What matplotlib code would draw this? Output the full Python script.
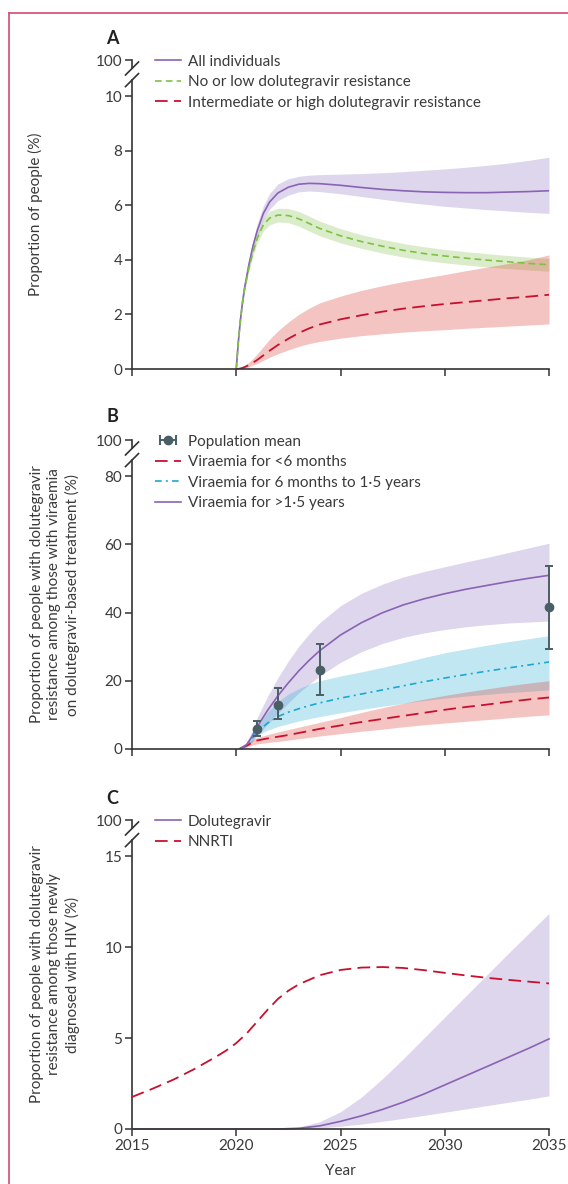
import numpy as np
import matplotlib.pyplot as plt
from matplotlib.lines import Line2D
from matplotlib.legend_handler import HandlerLine2D

plt.rcParams['font.family'] = ['Lato', 'DejaVu Sans']
TXT = '#3a3a3a'

# ---------------- panel A: proportion of people ----------------
years_a = [2020, 2020.1, 2020.2, 2020.3, 2020.4, 2020.6, 2020.8, 2021, 2021.3, 2021.6,
           2022, 2022.5, 2023, 2023.5, 2024, 2025, 2026, 2027, 2028, 2029,
           2030, 2031, 2032, 2033, 2034, 2035]
all_mean = [0, 1.0, 1.8, 2.45, 2.98, 3.8, 4.5, 5.05, 5.7, 6.12,
            6.45, 6.66, 6.77, 6.8, 6.79, 6.73, 6.65, 6.58, 6.53, 6.49,
            6.47, 6.46, 6.46, 6.48, 6.5, 6.53]
all_hi = [0, 1.05, 1.9, 2.55, 3.1, 3.95, 4.7, 5.3, 5.98, 6.43,
          6.78, 6.97, 7.06, 7.1, 7.12, 7.14, 7.16, 7.19, 7.23, 7.28,
          7.33, 7.39, 7.46, 7.54, 7.64, 7.76]
all_lo = [0, 0.95, 1.7, 2.35, 2.86, 3.65, 4.3, 4.82, 5.45, 5.85,
          6.17, 6.37, 6.49, 6.52, 6.5, 6.42, 6.32, 6.22, 6.12, 6.04,
          5.96, 5.9, 5.84, 5.79, 5.74, 5.7]
low_mean = [0, 1.0, 1.8, 2.42, 2.93, 3.68, 4.28, 4.78, 5.28, 5.53,
            5.64, 5.62, 5.5, 5.33, 5.15, 4.88, 4.67, 4.5, 4.35, 4.23,
            4.14, 4.06, 3.99, 3.93, 3.87, 3.82]
low_hi = [0, 1.03, 1.85, 2.49, 3.02, 3.8, 4.44, 4.97, 5.5, 5.78,
          5.89, 5.88, 5.77, 5.6, 5.42, 5.14, 4.92, 4.75, 4.6, 4.48,
          4.38, 4.3, 4.23, 4.16, 4.1, 4.05]
low_lo = [0, 0.97, 1.75, 2.35, 2.84, 3.57, 4.13, 4.6, 5.06, 5.28,
          5.39, 5.36, 5.23, 5.05, 4.88, 4.62, 4.42, 4.25, 4.1, 3.98,
          3.89, 3.81, 3.74, 3.68, 3.63, 3.58]
high_mean = [0, 0.0, 0.02, 0.04, 0.07, 0.14, 0.23, 0.33, 0.5, 0.67,
             0.88, 1.11, 1.32, 1.49, 1.63, 1.82, 1.97, 2.1, 2.21, 2.3,
             2.38, 2.45, 2.52, 2.59, 2.65, 2.72]
high_hi = [0, 0.01, 0.04, 0.08, 0.13, 0.25, 0.38, 0.55, 0.82, 1.09,
           1.4, 1.72, 2.0, 2.23, 2.42, 2.67, 2.88, 3.05, 3.2, 3.33,
           3.46, 3.6, 3.73, 3.86, 4.0, 4.18]
high_lo = [0, 0, 0.01, 0.02, 0.04, 0.08, 0.14, 0.2, 0.32, 0.43,
           0.56, 0.7, 0.83, 0.93, 1.01, 1.13, 1.22, 1.29, 1.35, 1.4,
           1.44, 1.49, 1.53, 1.57, 1.61, 1.65]

# ---------------- panel B: resistance among viraemic ----------------
years_b = [2020.15, 2020.5, 2020.75, 2021, 2021.5, 2022, 2022.5, 2023, 2023.5, 2024,
           2025, 2026, 2027, 2028, 2029, 2030, 2031, 2032, 2033, 2034, 2035]
long_mean = [0, 1.3, 3.6, 6.5, 11.3, 15.6, 19.4, 22.9, 26.0, 28.8,
             33.4, 37.0, 39.9, 42.2, 44.0, 45.5, 46.8, 47.9, 49.0, 50.0, 50.9]
long_hi = [0, 2.0, 5.2, 9.2, 15.4, 20.9, 25.8, 30.1, 33.8, 37.0,
           42.0, 45.6, 48.3, 50.4, 52.0, 53.4, 54.8, 56.1, 57.5, 58.9, 60.3]
long_lo = [0, 0.6, 2.0, 4.0, 7.2, 10.4, 13.5, 16.4, 19.0, 21.4,
           25.4, 28.5, 30.9, 32.7, 34.0, 35.0, 35.8, 36.4, 36.9, 37.2, 37.5]
mid_mean = [0, 1.2, 3.0, 5.0, 7.6, 9.5, 10.8, 11.8, 12.7, 13.5,
            14.9, 16.1, 17.3, 18.5, 19.7, 20.8, 21.8, 22.8, 23.7, 24.6, 25.5]
mid_hi = [0, 1.6, 4.0, 6.8, 10.8, 13.9, 16.1, 17.7, 19.0, 20.0,
          21.4, 22.6, 23.9, 25.3, 26.8, 28.2, 29.3, 30.4, 31.4, 32.3, 33.2]
mid_lo = [0, 0.8, 2.2, 4.0, 5.5, 6.6, 7.4, 8.2, 8.9, 9.5,
          10.6, 11.6, 12.5, 13.4, 14.2, 14.9, 15.5, 16.0, 16.5, 16.9, 17.3]
short_mean = [0, 1.0, 1.8, 2.5, 3.1, 3.6, 4.1, 4.7, 5.3, 5.9,
              6.9, 7.9, 8.8, 9.7, 10.6, 11.5, 12.3, 13.0, 13.8, 14.5, 15.1]
short_hi = [0, 1.4, 2.6, 3.4, 4.2, 5.0, 5.7, 6.4, 7.1, 7.8,
            9.2, 10.7, 12.1, 13.4, 14.6, 15.7, 16.7, 17.6, 18.5, 19.3, 20.0]
short_lo = [0, 0.6, 1.1, 1.5, 1.9, 2.2, 2.6, 3.0, 3.4, 3.8,
            4.5, 5.2, 5.8, 6.5, 7.1, 7.6, 8.1, 8.6, 9.1, 9.6, 10.0]
obs_years = [2021, 2022, 2024, 2035]
obs_mean = [5.8, 12.9, 23.1, 41.6]
obs_lo = [3.9, 8.9, 15.8, 29.3]
obs_hi = [8.3, 18.0, 30.9, 53.7]

# ---------------- panel C: newly diagnosed ----------------
years_nnrti = [2015, 2016, 2017, 2018, 2019, 2019.5, 2020, 2020.5, 2021, 2021.5,
               2022, 2022.5, 2023, 2024, 2025, 2026, 2027, 2028, 2029, 2030,
               2031, 2032, 2033, 2034, 2035]
nnrti = [1.76, 2.22, 2.72, 3.3, 3.95, 4.3, 4.72, 5.25, 5.9, 6.55,
         7.15, 7.6, 7.95, 8.45, 8.74, 8.87, 8.9, 8.85, 8.73, 8.58,
         8.44, 8.31, 8.2, 8.1, 8.0]
years_c = list(range(2015, 2036))
dtg_mean = [0, 0, 0, 0, 0, 0, 0, 0, 0.04, 0.17, 0.42,
            0.72, 1.07, 1.47, 1.92, 2.42, 2.92, 3.42, 3.92, 4.42, 4.95]
dtg_hi = [0, 0, 0, 0, 0, 0, 0, 0, 0.1, 0.4, 0.95,
          1.75, 2.75, 3.85, 5.0, 6.15, 7.3, 8.45, 9.6, 10.72, 11.85]
dtg_lo = [0, 0, 0, 0, 0, 0, 0, 0, 0.01, 0.06, 0.15,
          0.27, 0.42, 0.58, 0.75, 0.92, 1.1, 1.28, 1.46, 1.63, 1.82]

PURPLE = '#8a63b5'
GREEN = '#7dc243'
CRIMSON = '#c8102e'
BLUE = '#1ea7cf'
SLATE = '#4a5e66'

W, H = 568, 1184
fig = plt.figure(figsize=(W / 100, H / 100), dpi=100)


def px_axes(x0, x1, ytop, ybot):
    return fig.add_axes([x0 / W, 1 - ybot / H, (x1 - x0) / W, (ybot - ytop) / H])


def style(ax, top, ticks, labels, show_x=False):
    ax.set_xlim(2015, 2035)
    ax.set_ylim(0, top)
    ax.set_yticks(ticks + [top])
    ax.set_yticklabels(labels + ['100'])
    ax.set_xticks([2015, 2020, 2025, 2030, 2035])
    if not show_x:
        ax.set_xticklabels([])
    for s in ['top', 'right', 'left']:
        ax.spines[s].set_visible(False)
    ax.spines['bottom'].set_color('#333333')
    ax.spines['bottom'].set_linewidth(1.2)
    ax.tick_params(axis='both', colors='#333333', labelcolor=TXT, labelsize=11,
                   length=5, width=1.1, pad=2)
    # y axis with a break below the 100 tick
    kw = dict(transform=ax.transAxes, color='#333333', lw=1.2, clip_on=False)
    ax.plot([0, 0], [0, 0.935], **kw)
    ax.plot([0, 0], [0.9725, 1], **kw)
    for yc in (0.9725, 0.935):
        ax.plot([-0.0156, 0.0156], [yc - 0.021, yc + 0.021], **kw)
    ax.patch.set_alpha(0)


def band(ax, x, lo, hi, color):
    ax.fill_between(x, lo, hi, color=color, alpha=0.32, lw=0)


leg_kw = dict(loc='upper left', bbox_to_anchor=(0.055, 1.017), frameon=False,
              fontsize=11, handlelength=1.7, handletextpad=0.45, labelspacing=0.42,
              borderpad=0, borderaxespad=0, labelcolor=TXT)

# Panel A
axA = px_axes(132, 549, 60, 369)
style(axA, 11.32, [0, 2, 4, 6, 8, 10], ['0', '2', '4', '6', '8', '10'])
band(axA, years_a, all_lo, all_hi, '#9b80c6')
band(axA, years_a, low_lo, low_hi, '#8fc45c')
band(axA, years_a, high_lo, high_hi, '#dc4a40')
axA.plot(years_a, all_mean, color=PURPLE, lw=1.2, label='All individuals')
axA.plot(years_a, low_mean, color=GREEN, lw=1.2, dashes=(4, 2.5),
         label='No or low dolutegravir resistance')
axA.plot(years_a, high_mean, color=CRIMSON, lw=1.3, dashes=(7, 3.5),
         label='Intermediate or high dolutegravir resistance')
axA.legend(**leg_kw)

# Panel B
axB = px_axes(132, 549, 440, 749)
style(axB, 90.55, [0, 20, 40, 60, 80], ['0', '20', '40', '60', '80'])
band(axB, years_b, long_lo, long_hi, '#9b80c6')
band(axB, years_b, mid_lo, mid_hi, '#3fb6dc')
band(axB, years_b, short_lo, short_hi, '#dc4a40')
axB.plot(years_b, short_mean, color=CRIMSON, lw=1.3, dashes=(7, 3.5))
axB.plot(years_b, mid_mean, color=BLUE, lw=1.2, dashes=(4, 2.5, 1.2, 2.5))
axB.plot(years_b, long_mean, color=PURPLE, lw=1.2)
obs = np.array(obs_mean)
eb = axB.errorbar(obs_years, obs_mean,
                  yerr=[obs - np.array(obs_lo), np.array(obs_hi) - obs],
                  fmt='o', color=SLATE, ms=6, elinewidth=1.4, capsize=3.2,
                  capthick=1.4, zorder=5)
for art in [eb.lines[0]] + list(eb.lines[1]) + list(eb.lines[2]):
    art.set_clip_on(False)
cap_h = Line2D([], [], color=SLATE, lw=1.4, marker='|', ms=7, mew=1.4)
dot_h = Line2D([], [], color=SLATE, lw=0, marker='o', ms=6)
hB = [(cap_h, dot_h),
      Line2D([], [], color=CRIMSON, lw=1.3, dashes=(7, 3.5)),
      Line2D([], [], color=BLUE, lw=1.2, dashes=(4, 2.5, 1.2, 2.5)),
      Line2D([], [], color=PURPLE, lw=1.2)]
lB = ['Population mean', 'Viraemia for <6 months',
      'Viraemia for 6 months to 1·5 years', 'Viraemia for >1·5 years']
axB.legend(hB, lB, handler_map={cap_h: HandlerLine2D(numpoints=2),
                                dot_h: HandlerLine2D(numpoints=1)}, **leg_kw)

# Panel C
axC = px_axes(132, 549, 820, 1129)
style(axC, 16.98, [0, 5, 10, 15], ['0', '5', '10', '15'], show_x=True)
band(axC, years_c, dtg_lo, dtg_hi, '#9b80c6')
axC.plot(years_c, dtg_mean, color=PURPLE, lw=1.2, label='Dolutegravir', clip_on=False)
axC.plot(years_nnrti, nnrti, color=CRIMSON, lw=1.3, dashes=(7, 3.5), label='NNRTI')
axC.legend(**leg_kw)
axC.set_xlabel('Year', fontsize=11, color=TXT, labelpad=8)

# axis titles and panel letters
fig.text(35 / W, 1 - 214.5 / H, 'Proportion of people (%)', rotation=90,
         ha='center', va='center', fontsize=11, color=TXT)
fig.text(55 / W, 1 - 594.5 / H,
         'Proportion of people with dolutegravir\nresistance among those with viraemia\n'
         'on dolutegravir-based treatment (%)', rotation=90, ha='center', va='center',
         fontsize=11, color=TXT, linespacing=1.3)
fig.text(55 / W, 1 - 974.5 / H,
         'Proportion of people with dolutegravir\nresistance among those newly\n'
         'diagnosed with HIV (%)', rotation=90, ha='center', va='center',
         fontsize=11, color=TXT, linespacing=1.3)
for letter, yp in [('A', 38), ('B', 417), ('C', 798)]:
    fig.text(112 / W, 1 - yp / H, letter, ha='center', va='center',
             fontsize=13, fontweight='bold', color='#222222')

# journal frame
fig.add_artist(Line2D([9 / W, 9 / W], [0, 1 - 13 / H], color='#d64a6f', lw=1.2))
fig.add_artist(Line2D([9 / W, 1], [1 - 13 / H, 1 - 13 / H], color='#d64a6f', lw=1.2))

fig.savefig('out.png', dpi=100)
